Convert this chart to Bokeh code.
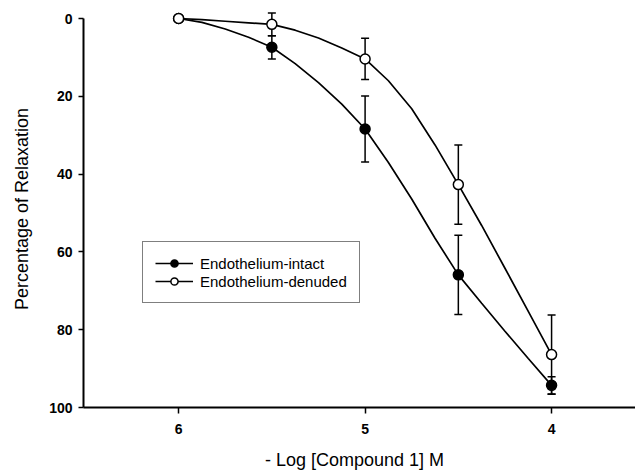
from bokeh.plotting import figure
from bokeh.models import Range1d, FixedTicker, Legend, LegendItem
from bokeh.embed import file_html
from bokeh.resources import INLINE

# Concentration (-log M) and mean relaxation (%) with SEM
dose = [6.0, 5.5, 5.0, 4.5, 4.0]
intact_mean = [0.0, 7.4, 28.4, 65.9, 94.3]
intact_sem = [0.0, 3.0, 8.5, 10.2, 2.2]
denuded_mean = [0.0, 1.5, 10.4, 42.7, 86.4]
denuded_sem = [0.0, 2.9, 5.3, 10.2, 10.2]

# Fitted concentration-response curves
fit_dose = [6.0, 5.875, 5.75, 5.625, 5.5, 5.375, 5.25, 5.125, 5.0,
            4.875, 4.75, 4.625, 4.5, 4.375, 4.25, 4.125, 4.0]
fit_intact = [0.0, 1.0, 2.7, 4.8, 7.4, 11.6, 16.5, 22.0, 28.4,
              37.0, 46.4, 56.5, 65.9, 73.2, 80.4, 87.4, 94.3]
fit_denuded = [0.0, 0.3, 0.7, 1.1, 1.5, 3.0, 5.0, 7.6, 10.4,
               16.0, 23.2, 32.5, 42.7, 53.2, 64.2, 75.3, 86.4]

x_ticks = [6, 5, 4]
y_ticks = [0, 20, 40, 60, 80, 100]

FONT = "Liberation Sans"

p = figure(width=635, height=476,
           x_range=Range1d(6.51, 3.55), y_range=Range1d(100, -2.06),
           output_backend="svg", toolbar_location=None,
           min_border_left=83, min_border_right=0,
           min_border_top=10, min_border_bottom=69)
p.grid.visible = False
p.outline_line_color = None
p.background_fill_color = "white"
p.border_fill_color = "white"

for ax in (p.xaxis[0], p.yaxis[0]):
    ax.axis_line_width = 2
    ax.axis_line_color = "black"
    ax.major_tick_line_width = 1.5
    ax.major_tick_in = 0
    ax.minor_tick_line_color = None
    ax.major_label_text_font = FONT
    ax.major_label_text_font_size = "14px"
    ax.major_label_text_font_style = "bold"
    ax.major_label_text_color = "black"
    ax.axis_label_text_font = FONT
    ax.axis_label_text_font_size = "18px"
    ax.axis_label_text_font_style = "normal"
    ax.axis_label_text_color = "black"

p.xaxis.ticker = FixedTicker(ticks=x_ticks)
p.xaxis.major_tick_out = 6
p.xaxis.major_label_standoff = 10
p.xaxis.axis_label = "- Log  [Compound 1]  M"
p.xaxis.axis_label_standoff = 13

p.yaxis.ticker = FixedTicker(ticks=y_ticks)
p.yaxis.bounds = (0, 100)
p.yaxis.major_tick_out = 5
p.yaxis.major_label_standoff = 6
p.yaxis.axis_label = "Percentage of Relaxation"
p.yaxis.axis_label_standoff = 14


def error_bars(x, mean, sem):
    lo = [m - s for m, s in zip(mean, sem)]
    hi = [m + s for m, s in zip(mean, sem)]
    p.segment(x0=x, y0=lo, x1=x, y1=hi, line_color="black", line_width=1.5)
    p.scatter(x=x + x, y=lo + hi, marker="dash", size=8,
              line_color="black", line_width=1.5)


error_bars(dose, intact_mean, intact_sem)
error_bars(dose, denuded_mean, denuded_sem)

line_i = p.line(fit_dose, fit_intact, line_color="black", line_width=1.7)
line_d = p.line(fit_dose, fit_denuded, line_color="black", line_width=1.7)

pts_i = p.scatter(dose, intact_mean, size=10, fill_color="black",
                  line_color="black", line_width=1.5)
pts_d = p.scatter(dose, denuded_mean, size=10, fill_color="white",
                  line_color="black", line_width=1.5)

legend = Legend(items=[
    LegendItem(label="Endothelium-intact", renderers=[line_i, pts_i]),
    LegendItem(label="Endothelium-denuded", renderers=[line_d, pts_d]),
], location=(59, 104))
legend.label_text_font = FONT
legend.label_text_font_size = "15px"
legend.label_text_color = "black"
legend.label_height = 18
legend.glyph_height = 18
legend.glyph_width = 38
legend.label_standoff = 7
legend.spacing = 0
legend.padding = 12
legend.margin = 0
legend.border_line_color = "black"
legend.border_line_width = 1
legend.background_fill_color = "white"
legend.background_fill_alpha = 1.0
p.add_layout(legend, "center")

open("out.html", "w").write(file_html(p, INLINE))
